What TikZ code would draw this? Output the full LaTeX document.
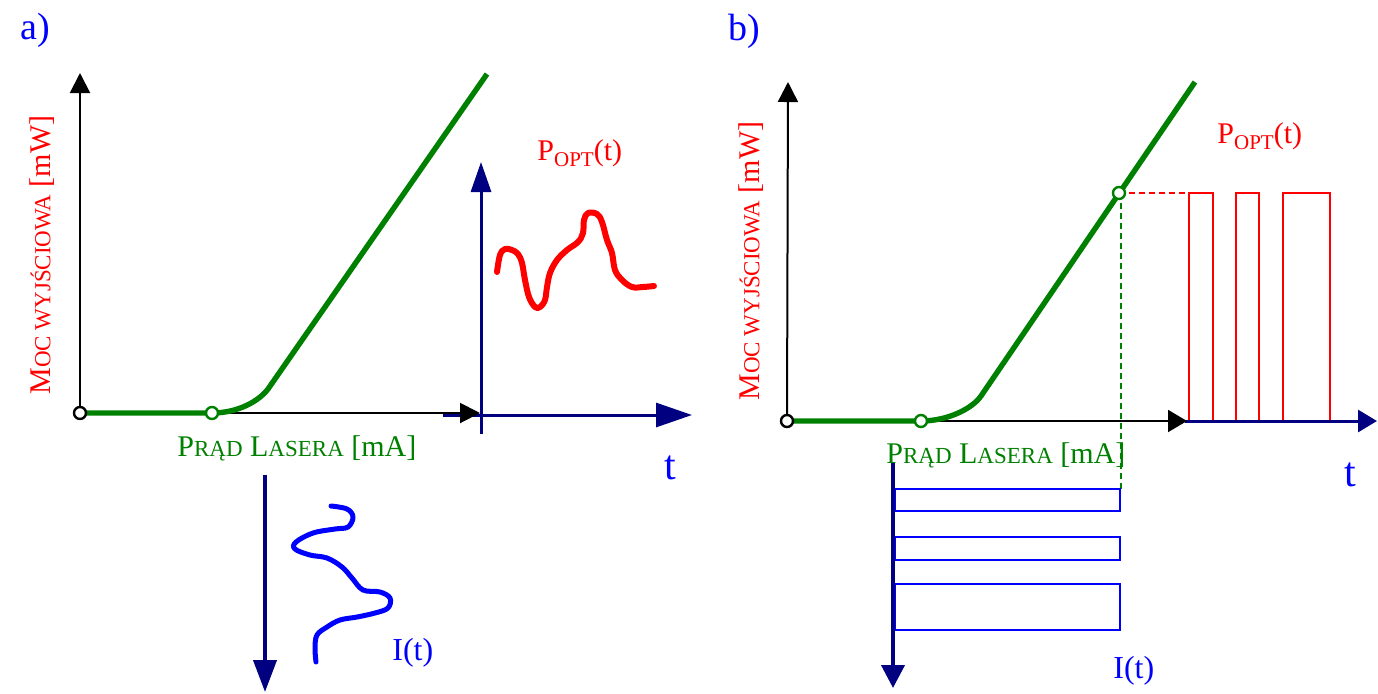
\documentclass[tikz,border=0pt]{standalone}
\usepackage{fontspec}
\setmainfont{Liberation Serif}
\usetikzlibrary{arrows.meta}

\definecolor{curvegreen}{RGB}{0,128,0}
\definecolor{axisnavy}{RGB}{0,0,128}
\definecolor{sigblue}{RGB}{0,0,255}
\definecolor{sigred}{RGB}{255,0,0}

% small capitals by hand
\newcommand{\smc}[1]{{\fontsize{11.5}{12}\selectfont #1}}
\newcommand{\popt}{P\raisebox{-3pt}{\fontsize{10.5}{11}\selectfont OPT}(t)}

\tikzset{
  paxis/.style={black, line width=1pt, -{Triangle[length=10pt,width=10pt]}},
  taxis/.style={axisnavy, line width=1.5pt, -{Triangle[length=18pt,width=12pt]}},
  iaxis/.style={axisnavy, line width=2pt, -{Triangle[length=16pt,width=11.5pt]}},
  charline/.style={curvegreen, line width=2.7pt},
  opendot/.style={circle, draw, fill=white, line width=1.2pt, inner sep=0pt, minimum size=6pt},
  redwave/.style={sigred, line width=3pt, line cap=round, line join=round},
  bluewave/.style={sigblue, line width=2.5pt, line cap=round, line join=round},
  pulse/.style={line width=1pt},
  panel/.style={sigblue, inner sep=0pt, anchor=base west, font=\fontsize{19}{20}\selectfont},
  ylab/.style={sigred, inner sep=0pt, rotate=90, font=\fontsize{15}{16}\selectfont},
  xlab/.style={curvegreen, inner sep=0pt, anchor=base west, font=\fontsize{15}{16}\selectfont},
  plab/.style={sigred, inner sep=0pt, anchor=base west, font=\fontsize{15}{16}\selectfont},
  ilab/.style={sigblue, inner sep=0pt, anchor=base west, font=\fontsize{16}{17}\selectfont},
  tlab/.style={sigblue, inner sep=0pt, anchor=base, font=\fontsize{21}{22}\selectfont}
}

\begin{document}
\begin{tikzpicture}[x=0.5pt, y=-0.5pt]
  \useasboundingbox (0,0) rectangle (1378,693);

  % ---------- a) ----------
  \node[panel] (pa) at (20,39) {a)};
  \coordinate (aO) at (80,413);
  \coordinate (aTh) at (212,413);
  \coordinate (aKnee) at (268,389);
  \coordinate (aEnd) at (487,74);
  % time axes of the optical output
  \draw[taxis] (443,415) -- (692,415);
  \draw[axisnavy, line width=1.5pt, -{Triangle[length=15pt,width=10pt]}] (481,434) -- (481,162);
  % power / current axes
  \draw[paxis] (aO) -- (80,73);
  \draw[paxis] (aO) -- (480,413);
  % characteristic
  \draw[charline] (aO) -- (aTh) .. controls (238,413) and (259,401) .. (aKnee) -- (aEnd);
  \node[opendot] at (aO) {};
  \node[opendot, draw=curvegreen] at (aTh) {};
  % current axis
  \draw[iaxis] (265,475) -- (265,692);
  % signals
  \draw[redwave] plot[smooth, tension=0.6] coordinates {(497,272) (500,255) (505,249) (512,250) (518,254) (522,263)
    (525,280) (529,297) (535,307) (540,307) (545,300) (547,287) (550,273) (557,260) (567,250) (578,242)
    (583,233) (584,220) (588,213) (597,214) (602,222) (607,240) (612,253) (615,270) (622,280) (632,287)
    (643,287) (654,286)};
  \draw[bluewave] plot[smooth, tension=0.6] coordinates {(331,506) (347,509) (353,517) (348,527) (335,529)
    (313,533) (296,542) (295,549) (310,555) (327,558) (342,567) (352,578) (363,590) (380,592) (390,598)
    (388,608) (375,613) (357,617) (340,620) (327,627) (317,635) (315,648) (316,662)};
  % labels
  \node[ylab] (moca) at (42,255) {M\smc{OC WYJŚCIOWA} [mW]};
  \node[xlab] (prada) at (177,456) {P\smc{RĄD} L\smc{ASERA} [mA]};
  \node[plab] (popta) at (537,160) {\popt};
  \node[tlab] (ta) at (670,479) {t};
  \node[ilab] (ita) at (392,660) {I(t)};

  % ---------- b) ----------
  \node[panel] (pb) at (728,40) {b)};
  \coordinate (bO) at (787,421);
  \coordinate (bTh) at (921,421);
  \coordinate (bKnee) at (981,396);
  \coordinate (bEnd) at (1195,82);
  \coordinate (bWork) at (1119,193);
  % output pulses
  \foreach \xa/\xb in {1189/1213, 1236/1259, 1283/1330}
    \draw[pulse, sigred] (\xa,421) rectangle (\xb,193);
  \draw[taxis, -{Triangle[length=9.5pt,width=11pt]}] (1185,421) -- (1377,421);
  % power / current axes
  \draw[paxis] (bO) -- (788,82);
  \draw[paxis, -{Triangle[length=9.5pt,width=11pt]}] (bO) -- (1187,421);
  % projections of the working point
  \draw[sigred, line width=1pt, dash pattern=on 3pt off 2pt] (bWork) -- (1189,193);
  \draw[curvegreen, line width=0.8pt, dash pattern=on 3pt off 2pt] (1121,193) -- (1121,490);
  % characteristic
  \draw[charline] (bO) -- (bTh) .. controls (947,421) and (972,409) .. (bKnee) -- (bEnd);
  \node[opendot] at (bO) {};
  \node[opendot, draw=curvegreen] at (bTh) {};
  \node[opendot, draw=curvegreen] at (bWork) {};
  % input current pulses
  \foreach \ya/\yb in {489/511, 537/560, 584/630}
    \draw[pulse, sigblue] (895,\ya) rectangle (1120,\yb);
  \draw[iaxis, -{Triangle[length=11.5pt,width=11.5pt]}] (893,463) -- (893,688);
  % labels
  \node[ylab] (mocb) at (751,261) {M\smc{OC WYJŚCIOWA} [mW]};
  \node[xlab] (pradb) at (886,463) {P\smc{RĄD} L\smc{ASERA} [mA]};
  \node[plab] (poptb) at (1217,143) {\popt};
  \node[tlab] (tb) at (1350,486) {t};
  \node[ilab] (itb) at (1113,678) {I(t)};
\end{tikzpicture}
\end{document}
